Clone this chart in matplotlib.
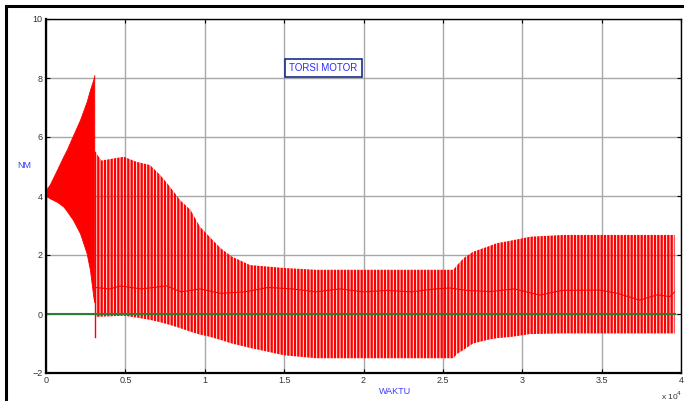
import matplotlib
matplotlib.use("Agg")
import matplotlib.pyplot as plt
from matplotlib.patches import Rectangle

plt.rcParams['font.family'] = ['Liberation Sans', 'DejaVu Sans']
plt.rcParams['hatch.linewidth'] = 1.7
plt.rcParams['hatch.color'] = 'red'

# start-up (dense) part of the torque signal
tri_t = [0, 250, 700, 1100, 1300, 1700, 2140, 2560, 2770, 2980, 3040]
tri_hi = [4.2, 4.4, 4.9, 5.35, 5.56, 6.05, 6.58, 7.2, 7.6, 7.95, 8.1]
tri_lo = [4.0, 3.92, 3.8, 3.64, 3.5, 3.19, 2.74, 2.06, 1.49, 0.59, 0.4]

# envelope of the oscillating part
env_t = [3100, 3500, 4000, 4900, 5700, 6550, 7200, 7800, 8450, 9100, 9700,
         10300, 11000, 11700, 12850, 15000, 17000, 25660, 25900, 26300, 26900,
         27800, 28400, 29400, 30500, 32600, 39600]
env_hi = [5.5, 5.2, 5.25, 5.33, 5.16, 5.05, 4.71, 4.32, 3.86, 3.53, 2.96,
          2.62, 2.23, 1.95, 1.66, 1.56, 1.5, 1.5, 1.66, 1.89, 2.11,
          2.28, 2.4, 2.5, 2.62, 2.68, 2.68]
env_lo = [-0.1, -0.09, -0.08, -0.06, -0.12, -0.2, -0.28, -0.37, -0.48, -0.6, -0.7,
          -0.77, -0.88, -1.0, -1.15, -1.4, -1.5, -1.5, -1.35, -1.22, -1.0,
          -0.88, -0.82, -0.77, -0.68, -0.66, -0.66]

# slower inner trace
mid_t = [3100, 4000, 4700, 6000, 7600, 8500, 9700, 11000, 12500, 14000, 15500,
         17000, 18500, 20000, 21500, 23000, 24500, 25450, 26500, 28000, 29500,
         31100, 32500, 34900, 36000, 37400, 38500, 39300, 39600]
mid_v = [0.9, 0.85, 0.95, 0.85, 0.95, 0.75, 0.85, 0.7, 0.75, 0.9, 0.85,
         0.75, 0.85, 0.75, 0.8, 0.75, 0.85, 0.88, 0.8, 0.76, 0.85,
         0.64, 0.8, 0.81, 0.7, 0.47, 0.65, 0.59, 0.75]

start_t = [0, 0]
start_v = [0, 4.3]
dip_t = [3060, 3060]
dip_v = [-0.77, 5.5]

zero_t = [0, 39600]
zero_v = [0, 0]

xticks = [0, 5000, 10000, 15000, 20000, 25000, 30000, 35000, 40000]
xlabels = ['0', '0.5', '1', '1.5', '2', '2.5', '3', '3.5', '4']
yticks = [-2, 0, 2, 4, 6, 8, 10]

fig = plt.figure(figsize=(6.84, 4.01), dpi=100)
ax = fig.add_axes([46 / 684, 1 - 373 / 401, 635 / 684, 354 / 401])

ax.fill_between(tri_t, tri_lo, tri_hi, color='red', lw=0.6)
ax.fill_between(env_t, env_lo, env_hi, facecolor='none', edgecolor='red',
                hatch='|||||', lw=0)
ax.plot(mid_t, mid_v, color='red', lw=0.8)
ax.plot(start_t, start_v, color='red', lw=1)
ax.plot(dip_t, dip_v, color='red', lw=1)
ax.plot(zero_t, zero_v, color='#2f7d32', lw=1.5)

ax.set_xlim(0, 40000)
ax.set_ylim(-2, 10)
ax.set_xticks(xticks)
ax.set_xticklabels(xlabels)
ax.set_yticks(yticks)
ax.grid(True, color='#a8a8a8', lw=1)
ax.set_axisbelow(True)
ax.tick_params(direction='in', length=3, width=0.8, top=True, right=True,
               labelsize=6.5, labelcolor='#333333', pad=2.5)
for s in ax.spines.values():
    s.set_linewidth(1.0)
ax.spines['left'].set_linewidth(1.6)
ax.spines['bottom'].set_linewidth(1.6)

ax.text(17450, 8.34, 'TORSI MOTOR', color='#2a2aff', fontsize=7,
        ha='center', va='center',
        bbox=dict(boxstyle='square,pad=0.45', fc='white', ec='#1a2f8f', lw=1.2))

fig.text(24 / 684, 1 - 165 / 401, 'NM', color='#3a3aff', fontsize=6.5,
         ha='center', va='center')
fig.text(395 / 684, 1 - 392 / 401, 'WAKTU', color='#3a3aff', fontsize=6.5,
         ha='center', va='center')
fig.text(672 / 684, 1 - 396 / 401, 'x 10$^{4}$', color='#333333', fontsize=6,
         ha='center', va='center')

fig.add_artist(Rectangle((6 / 684, -0.1), 1.2, 1 - 6 / 401 + 0.1,
                         transform=fig.transFigure, fill=False,
                         ec='black', lw=2.2))

fig.savefig('out.png', dpi=100)
